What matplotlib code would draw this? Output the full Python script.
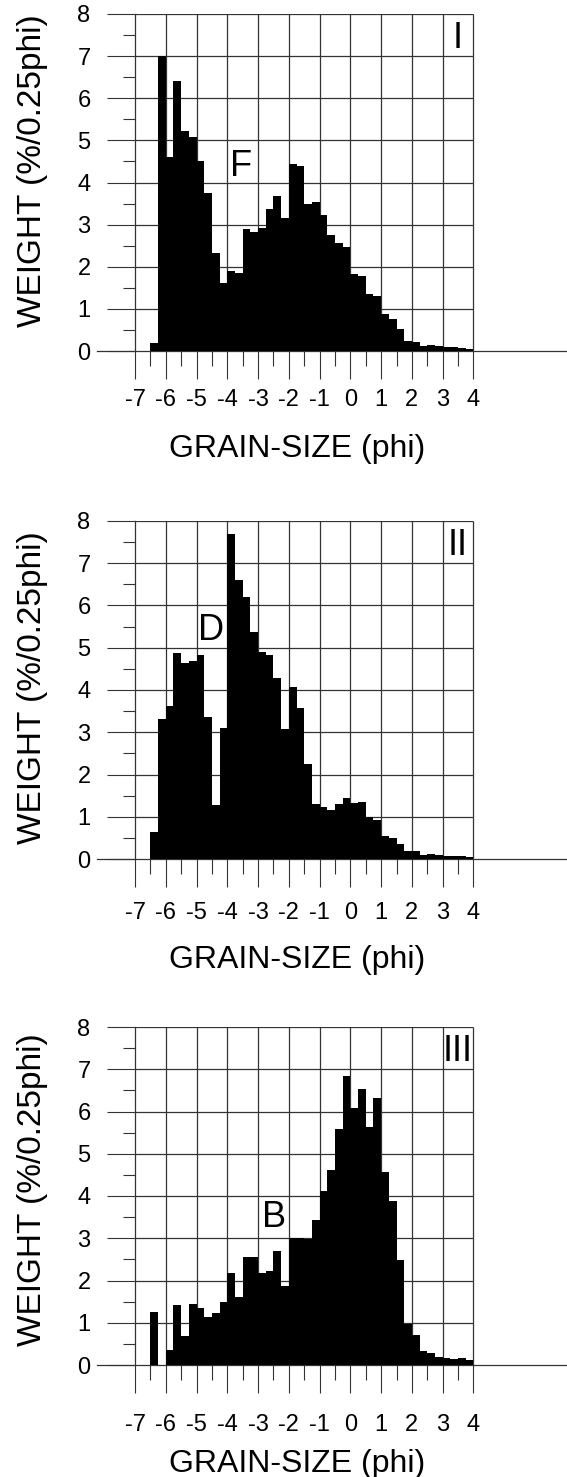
import matplotlib
matplotlib.use('Agg')
import matplotlib.pyplot as plt
import numpy as np

plt.rcParams['font.family'] = ['Liberation Sans', 'DejaVu Sans']

# left edge of each 0.25 phi class
phi_bins = np.arange(-6.5, 4.0, 0.25)

weight_I = [0.19, 7.0, 4.6, 6.4, 5.22, 5.08, 4.52, 3.74, 2.33, 1.61,
            1.89, 1.86, 2.9, 2.83, 2.93, 3.38, 3.69, 3.15, 4.44, 4.39,
            3.5, 3.53, 3.22, 2.75, 2.57, 2.48, 1.83, 1.79, 1.35, 1.31,
            0.88, 0.76, 0.52, 0.24, 0.22, 0.13, 0.15, 0.11, 0.09, 0.09,
            0.08, 0.04]
weight_II = [0.65, 3.31, 3.62, 4.88, 4.63, 4.69, 4.84, 3.36, 1.27, 3.10,
             7.70, 6.6, 6.19, 5.37, 4.89, 4.82, 4.28, 3.08, 4.06, 3.57,
             2.24, 1.30, 1.22, 1.16, 1.31, 1.44, 1.32, 1.34, 1.0, 0.92,
             0.55, 0.49, 0.36, 0.2, 0.19, 0.1, 0.12, 0.1, 0.06, 0.07,
             0.07, 0.05]
weight_III = [1.26, 0, 0.35, 1.42, 0.68, 1.44, 1.34, 1.13, 1.22, 1.5,
              2.17, 1.61, 2.55, 2.55, 2.18, 2.23, 2.7, 1.88, 3.0, 3.0,
              2.99, 3.44, 4.11, 4.61, 5.59, 6.83, 6.09, 6.53, 5.63, 6.31,
              4.56, 3.87, 2.48, 0.97, 0.72, 0.34, 0.28, 0.2, 0.17, 0.15,
              0.17, 0.12]

panel_names = ['I', 'II', 'III']
mode_letters = ['F', 'D', 'B']
xtick_vals = list(range(-7, 5))
xtick_labels = [str(v) for v in xtick_vals]
ytick_vals = list(range(0, 9))

W, H = 567, 1477
fig = plt.figure(figsize=(W / 100, H / 100), dpi=100)

# pixel rows of the y=8 line and the y=0 line of each panel
panel_rows = [(14, 351), (521, 859), (1027, 1365)]
tick_pad = [7, 11, 15]
xlabel_base = [457, 968, 1472]
ylabel_mid = [171, 688, 1190]
letter_pos = [(-3.54, 4.16), (-4.53, 5.18), (-2.48, 3.26)]

ax_left, ax_right = 97, 566
px_per_phi = 30.77
x0 = -7 - (135 - ax_left) / px_per_phi
x1 = -7 + (ax_right - 135) / px_per_phi
grid_c = '#333333'

for i, weights in enumerate([weight_I, weight_II, weight_III]):
    top, bottom = panel_rows[i]
    ax = fig.add_axes([ax_left / W, 1 - bottom / H,
                       (ax_right - ax_left) / W, (bottom - top) / H])
    ax.set_xlim(x0, x1)
    ax.set_ylim(0, 8)
    px_per_unit = (bottom - top) / 8

    ax.vlines(range(-6, 5), 0, 8, colors=grid_c, lw=0.9, zorder=1)
    ax.hlines(range(1, 9), -7, 4, colors=grid_c, lw=0.9, zorder=1)
    ax.bar(phi_bins, weights, width=0.25, align='edge', color='black',
           lw=0, zorder=3)

    ax.spines['top'].set_visible(False)
    ax.spines['right'].set_visible(False)
    ax.spines['left'].set_position(('data', -7))
    ax.spines['left'].set_bounds(0, 8)
    for s in ['left', 'bottom']:
        ax.spines[s].set_color(grid_c)
        ax.spines[s].set_linewidth(0.9)

    ax.set_xticks(xtick_vals, xtick_labels)
    ax.set_xticks(np.arange(-6.5, 4, 1), minor=True)
    ax.set_yticks(ytick_vals)
    ax.set_yticks(np.arange(0.5, 8, 1), minor=True)
    ax.tick_params(axis='x', which='major', length=20, width=0.8,
                   color=grid_c, pad=tick_pad[i], labelsize=17)
    ax.tick_params(axis='x', which='minor', length=11, width=0.8,
                   color=grid_c)
    ax.tick_params(axis='y', which='major', length=20, width=0.8,
                   color=grid_c, pad=12, labelsize=17)
    ax.tick_params(axis='y', which='minor', length=8.5, width=0.8,
                   color=grid_c)

    ax.annotate('GRAIN-SIZE (phi)', xy=(-1.73, 0),
                xytext=(0, -(xlabel_base[i] - bottom) * 0.72),
                textcoords='offset points', ha='center', va='baseline',
                fontsize=23, annotation_clip=False)
    ax.text(-7 - (135 - 32) / px_per_phi, (bottom - ylabel_mid[i]) / px_per_unit,
            'WEIGHT (%/0.25phi)', rotation=90, ha='center', va='center',
            fontsize=24)

    ax.text(3.5, 7.2, panel_names[i], ha='center', va='baseline', fontsize=26)
    lx, ly = letter_pos[i]
    ax.text(lx, ly, mode_letters[i], ha='center', va='baseline', fontsize=26)

fig.savefig('out.png', dpi=100)
